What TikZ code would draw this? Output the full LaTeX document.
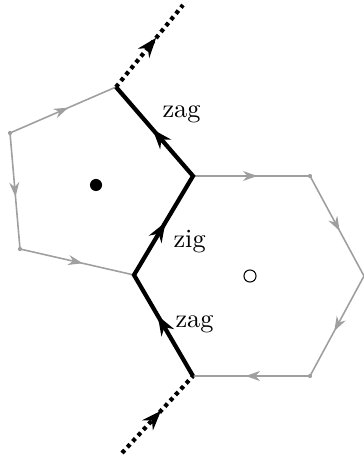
\documentclass[tikz,border=0pt]{standalone}
\usetikzlibrary{arrows.meta,decorations.markings}
\tikzset{
    edge/.style={gray!75,semithick,
        postaction={decorate},
        decoration={markings,mark=at position 0.55 with {\arrow{Stealth[length=5.5pt,width=3.8pt]}}}},
    vdot/.style={circle,fill=gray!75,inner sep=0pt,minimum size=1.6pt},
    zigzag/.style={line width=1.6pt,line join=miter},
    dotline/.style={line width=1.6pt,dash pattern=on 1.5pt off 1.5pt,
        postaction={decorate},
        decoration={markings,mark=at position #1 with {\arrow{Stealth[length=7.5pt,width=5.5pt]}}}},
    face/.style={circle,inner sep=0pt,minimum size=4.6pt}
}
\begin{document}
\begin{tikzpicture}[x=0.38pt,y=-0.38pt]
    \useasboundingbox (0,0) rectangle (363,465);
    % vertices
    \coordinate (A) at (193,176);
    \coordinate (B) at (193,376);
    \coordinate (C) at (134,275);
    \coordinate (D) at (116,87);
    \coordinate (E) at (10,133);
    \coordinate (F) at (20,249);
    \coordinate (H1) at (310,176);
    \coordinate (H2) at (364,276);
    \coordinate (H3) at (310,376);
    \coordinate (S) at (122,453);
    \coordinate (T) at (183,5);
    % grey faces
    \foreach \a/\b in {E/D,E/F,F/C,A/H1,H1/H2,H2/H3,H3/B}
        \draw[edge] (\a) -- (\b);
    \foreach \v in {E,F,H1,H3}
        \node[vdot] at (\v) {};
    % zig-zag path
    \draw[zigzag,postaction={decorate},
        decoration={markings,
            mark=at position 0.2 with {\arrow{Stealth[length=7.5pt,width=5.5pt]}},
            mark=at position 0.51 with {\arrow{Stealth[length=7.5pt,width=5.5pt]}},
            mark=at position 0.84 with {\arrow{Stealth[length=7.5pt,width=5.5pt]}}}]
        (B) -- (C) -- (A) -- (D);
    \draw[dotline=0.55] (S) -- (B);
    \draw[dotline=0.6] (D) -- (T);
    % labels
    \node[anchor=base west,inner sep=0pt] (zagA) at (162,118) {zag};
    \node[anchor=base west,inner sep=0pt] (zig) at (173,247) {zig};
    \node[anchor=base west,inner sep=0pt] (zagB) at (175,327) {zag};
    \node[face,fill=black] (black) at (96,185) {};
    \node[face,draw,thin] (white) at (250,276) {};
\end{tikzpicture}
\end{document}
